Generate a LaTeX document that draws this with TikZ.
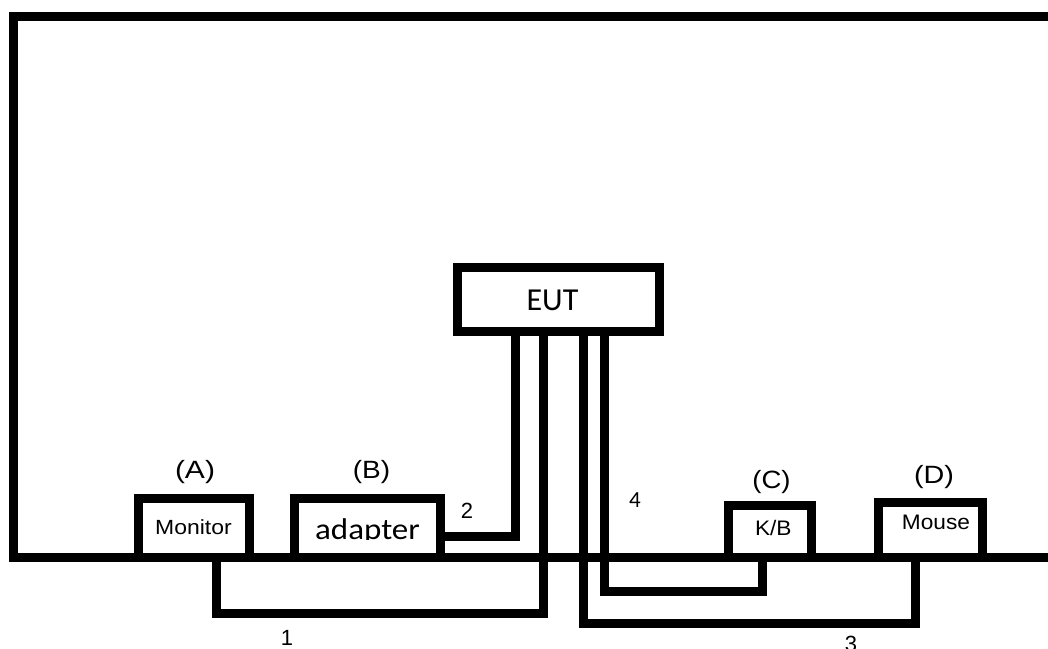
\documentclass[tikz,border=0pt]{standalone}
\usepackage{fontspec}
\usepackage{graphicx}
\setmainfont{Liberation Sans}
\newfontfamily\califont{Carlito}
\tikzset{
  thick9/.style={line width=9pt, line join=miter, line cap=butt},
  devbox/.style={draw, thick9, rectangle, inner sep=0pt, outer sep=0pt, fill=white},
  wire/.style={thick9},
  lbl/.style={inner sep=0pt, outer sep=0pt, anchor=base, text=black},
}
\begin{document}
\begin{tikzpicture}[x=1pt,y=-1pt]
\useasboundingbox (0,0) rectangle (1048,648);
% frame (table) outline
\coordinate (ftr) at (1056,16.5);
\coordinate (ftl) at (13.5,16.5);
\coordinate (fbl) at (13.5,557);
\coordinate (fbr) at (1056,557);
\draw[thick9] (ftr) -- (ftl) -- (fbl) -- (fbr);

% devices
\node[devbox, minimum width=110.5pt, minimum height=58.5pt] (mon) at (193.75,527.75) {};
\node[devbox, minimum width=146pt, minimum height=59pt] (ada) at (367.5,527.5) {};
\node[devbox, minimum width=202pt, minimum height=64pt] (eut) at (558,299) {};
\node[devbox, minimum width=83pt, minimum height=51.5pt] (kb) at (769.5,531.25) {};
\node[devbox, minimum width=104pt, minimum height=55pt] (mouse) at (930,529.5) {};
% ground line over box bottoms
\draw[thick9] (fbl) -- (fbr);

% texts
\node[lbl] (tA) at (195,478.5) {\fontsize{25}{29}\selectfont\scalebox{1.2}[1]{(A)}};
\node[lbl] (tB) at (371.5,478.5) {\fontsize{25}{29}\selectfont\scalebox{1.12}[1]{(B)}};
\node[lbl] (tC) at (771.5,488.5) {\fontsize{25}{29}\selectfont\scalebox{1.1}[1]{(C)}};
\node[lbl] (tD) at (934,483.5) {\fontsize{25}{29}\selectfont\scalebox{1.15}[1]{(D)}};
\node[lbl] (tmon) at (193.5,534) {\fontsize{20.5}{24}\selectfont\scalebox{1.12}[1]{Monitor}};
\node[lbl] (tkb) at (773.3,535.5) {\fontsize{21}{25}\selectfont\scalebox{1.08}[1]{K/B}};
\node[lbl] (tmouse) at (936,529.5) {\fontsize{21}{25}\selectfont\scalebox{1.08}[1]{Mouse}};
\node[lbl] (teut) at (552.5,310) {\califont\fontsize{32}{38}\selectfont EUT};
\begin{scope}
\clip (300,500) rectangle (436,539.5);
\node[lbl] (tada) at (367.5,539) {\califont\fontsize{30}{36}\selectfont\scalebox{1.1}[1]{adapter}};
\end{scope}

% cables
\coordinate (w1a) at (543,613.5);
\coordinate (w1b) at (216,613.5);
\draw[wire] (eut.south -| w1a) -- (w1a) -- (w1b) -- (mon.south -| w1b);
\coordinate (w2) at (515,536);
\draw[wire] (ada.east |- w2) -- (w2) -- (eut.south -| w2);
\coordinate (w3a) at (583,623);
\coordinate (w3b) at (915,623);
\draw[wire] (eut.south -| w3a) -- (w3a) -- (w3b) -- (mouse.south -| w3b);
\coordinate (w4a) at (604,591);
\coordinate (w4b) at (762,591);
\draw[wire] (eut.south -| w4a) -- (w4a) -- (w4b) -- (kb.south -| w4b);

% cable numbers
\node[lbl] (n1) at (287,645) {\fontsize{22}{26}\selectfont 1};
\node[lbl] (n2) at (467,518) {\fontsize{22}{26}\selectfont 2};
\node[lbl] (n3) at (851,651) {\fontsize{22}{26}\selectfont 3};
\node[lbl] (n4) at (635,507) {\califont\fontsize{23}{27}\selectfont 4};
\end{tikzpicture}
\end{document}
